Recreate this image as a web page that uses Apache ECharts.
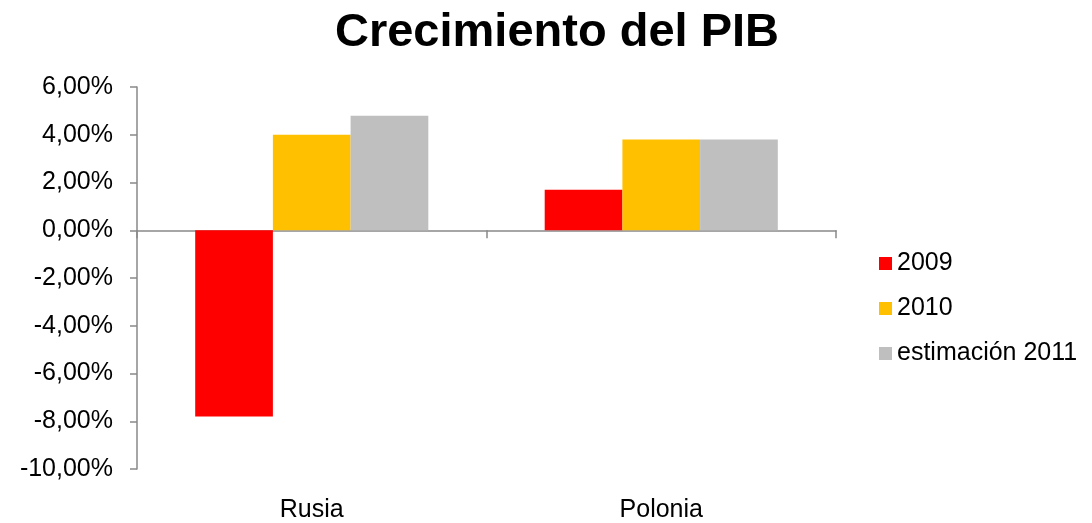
<!DOCTYPE html>
<html>
<head>
<meta charset="utf-8">
<script src="https://cdn.jsdelivr.net/npm/echarts@6/dist/echarts.min.js"></script>
<style>
  html, body { margin: 0; padding: 0; background: #ffffff; }
  #chart { width: 1092px; height: 523px; }
</style>
</head>
<body>
<div id="chart"></div>
<script>
// GDP growth by country (percent)
const categories = ['Rusia', 'Polonia'];
const seriesNames = ['2009', '2010', 'estimación 2011'];
const growth2009 = [-7.8, 1.7];
const growth2010 = [4.0, 3.8];
const growth2011 = [4.8, 3.8];
const yTicks = { min: -10, max: 6, step: 2 };

const colors = ['#FF0000', '#FFC000', '#BFBFBF'];
const axisGray = '#898989';
const font = 'Liberation Sans, Arial, sans-serif';

const fmtPct = v => v.toFixed(2).replace('.', ',') + '%';

const chart = echarts.init(document.getElementById('chart'), null, { renderer: 'canvas' });

chart.setOption({
  animation: false,
  backgroundColor: '#ffffff',
  color: colors,
  title: {
    text: 'Crecimiento del PIB',
    left: 552,
    top: 5,
    textAlign: 'center',
    textStyle: { fontFamily: font, fontSize: 47, fontWeight: 'bold', color: '#000000' }
  },
  legend: {
    orient: 'vertical',
    left: 874,
    top: 246,
    itemWidth: 13,
    itemHeight: 13,
    itemGap: 20,
    icon: 'rect',
    data: seriesNames,
    textStyle: { fontFamily: font, fontSize: 25, lineHeight: 25, color: '#000000' }
  },
  grid: { left: 137, right: 256, top: 87, bottom: 53, containLabel: false },
  xAxis: [
    {
      // category labels along the bottom edge
      type: 'category',
      data: categories,
      position: 'bottom',
      axisLine: { show: false, onZero: false },
      axisTick: { show: false },
      axisLabel: { fontFamily: font, fontSize: 25, color: '#000000', margin: 29 },
      splitLine: { show: false }
    },
    {
      // baseline drawn through zero
      type: 'category',
      data: categories,
      position: 'bottom',
      axisLine: { show: true, onZero: true, lineStyle: { color: axisGray, width: 1.5 } },
      axisTick: { show: true, length: 8, lineStyle: { color: axisGray, width: 1.5 } },
      axisLabel: { show: false },
      splitLine: { show: false }
    }
  ],
  yAxis: {
    type: 'value',
    min: yTicks.min,
    max: yTicks.max,
    interval: yTicks.step,
    axisLine: { show: true, onZero: false, lineStyle: { color: axisGray, width: 1.5 } },
    axisTick: { show: true, length: 7, inside: false, lineStyle: { color: axisGray, width: 1.5 } },
    axisLabel: { fontFamily: font, fontSize: 25, color: '#000000', margin: 24, formatter: fmtPct },
    splitLine: { show: false }
  },
  series: [
    { name: seriesNames[0], type: 'bar', xAxisIndex: 0, data: growth2009, barGap: '0%', barCategoryGap: '33.3%' },
    { name: seriesNames[1], type: 'bar', xAxisIndex: 0, data: growth2010, barGap: '0%', barCategoryGap: '33.3%' },
    { name: seriesNames[2], type: 'bar', xAxisIndex: 0, data: growth2011, barGap: '0%', barCategoryGap: '33.3%' }
  ]
});
</script>
</body>
</html>
